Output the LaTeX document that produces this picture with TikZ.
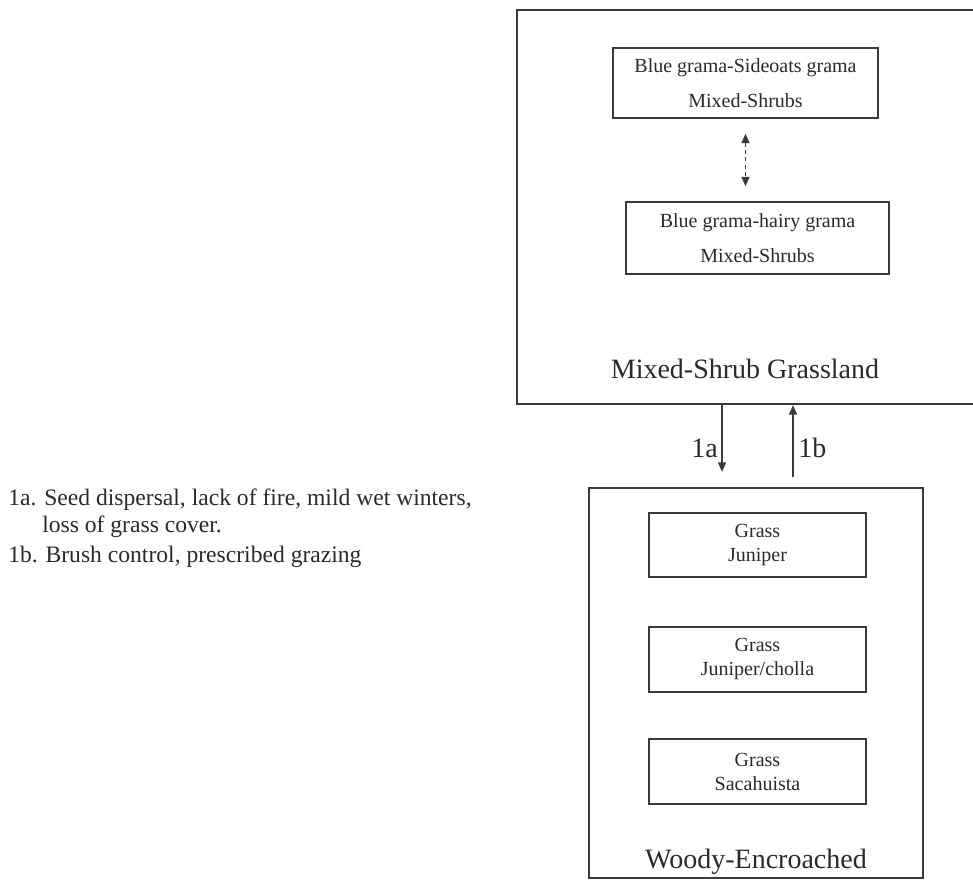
\documentclass[tikz,border=0pt]{standalone}
\usepackage{fontspec}
\setmainfont{Liberation Serif}
\usetikzlibrary{arrows.meta}
\newlength\pxu
\setlength\pxu{0.75pt}
\definecolor{linegray}{HTML}{3A3A3A}
\definecolor{textgray}{HTML}{2A2A2A}
\tikzset{
  outerbox/.style={draw=linegray, line width=1.8pt, inner sep=0pt, fill=none},
  innerbox/.style={draw=linegray, line width=1.2pt, inner sep=0pt, align=center, text=textgray},
  topfont/.style={font=\fontsize{15}{26}\selectfont},
  woodfont/.style={font=\fontsize{15}{18}\selectfont},
  titlefont/.style={font=\fontsize{21}{25}\selectfont, text=textgray, inner sep=0pt},
  legendfont/.style={font=\fontsize{17.7}{21}\selectfont, text=textgray, inner sep=0pt},
  arr/.style={draw=linegray, line width=1.1pt, -{Triangle[length=7pt,width=6pt]}},
  dasharr/.style={draw=linegray, line width=1.1pt, dash pattern=on 3pt off 2.5pt,
     {Triangle[length=7pt,width=6pt]}-{Triangle[length=7pt,width=6pt]}}
}
\begin{document}
\begin{tikzpicture}[x=0.75pt,y=-0.75pt]
\useasboundingbox (0,0) rectangle (973,880);
\clip (0,0) rectangle (973,880);
\fill[white] (0,0) rectangle (973,880);

% outer boxes (extend past the picture edges)
\node[outerbox, minimum width=470\pxu, minimum height=394\pxu] (msg) at (752,207) {};
\node[outerbox, minimum width=334\pxu, minimum height=390\pxu] (woody) at (756,683) {};

% Mixed-shrub grassland inner boxes
\node[innerbox, topfont, minimum width=265\pxu, minimum height=70\pxu] (bs) at (745.5,83)
  {Blue grama-Sideoats grama\\Mixed-Shrubs};
\node[innerbox, topfont, minimum width=263\pxu, minimum height=72\pxu] (bh) at (757.5,238)
  {Blue grama-hairy grama\\Mixed-Shrubs};
\node[titlefont, anchor=base] (msgt) at (745,378) {Mixed-Shrub Grassland};

% Woody-encroached inner boxes
\node[innerbox, woodfont, minimum width=217\pxu, minimum height=64\pxu] (gj) at (757.5,545)
  {Grass\\Juniper};
\node[innerbox, woodfont, minimum width=217\pxu, minimum height=65\pxu] (gc) at (757.5,659.5)
  {Grass\\Juniper/cholla};
\node[innerbox, woodfont, minimum width=217\pxu, minimum height=65\pxu] (gs) at (757.5,771.5)
  {Grass\\Sacahuista};
\node[titlefont, anchor=base] (woodyt) at (756,868) {Woody-Encroached};

% connectors
\coordinate (xa) at (722,0);
\coordinate (xb) at (793,0);
\draw[dasharr, shorten <=15\pxu, shorten >=15\pxu] (bs.south) -- (bs.south |- bh.north);
\draw[arr, shorten >=15\pxu] (msg.south -| xa) -- (woody.north -| xa);
\draw[arr, shorten <=10\pxu] (woody.north -| xb) -- (msg.south -| xb);
\node[titlefont, anchor=base east] (la) at (718,457) {1a};
\node[titlefont, anchor=base west] (lb) at (798,457) {1b};

% legend
\node[legendfont, anchor=base west] (leg1) at (8,505) {1a. Seed dispersal, lack of fire, mild wet winters,};
\node[legendfont, anchor=base west] (leg2) at (42,532) {loss of grass cover.};
\node[legendfont, anchor=base west] (leg3) at (8,562) {1b. Brush control, prescribed grazing};
\end{tikzpicture}
\end{document}
